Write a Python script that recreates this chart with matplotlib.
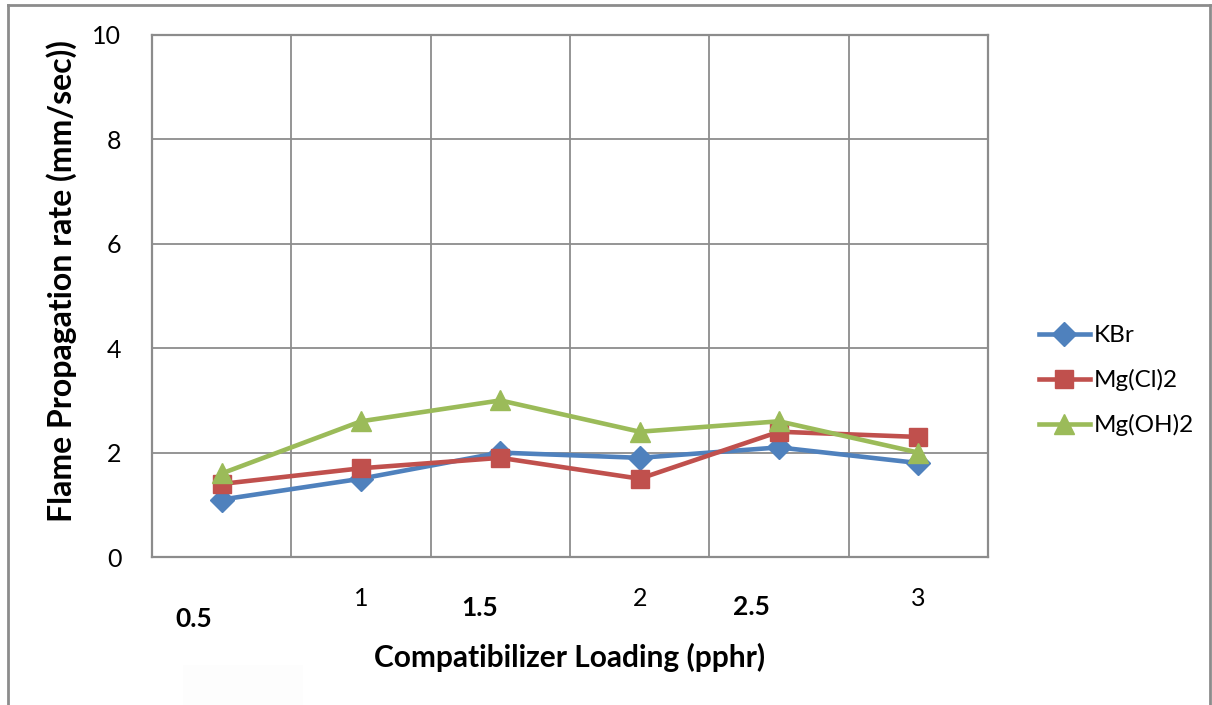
import matplotlib.pyplot as plt
from matplotlib.lines import Line2D
from matplotlib.patches import Rectangle

plt.rcParams['font.family'] = ['Lato', 'DejaVu Sans']

# loading levels (pphr) and flame propagation rate (mm/sec)
loading = ['0.5', '1', '1.5', '2', '2.5', '3']
kbr = [1.1, 1.5, 2.0, 1.9, 2.1, 1.8]
mgcl2 = [1.4, 1.7, 1.9, 1.5, 2.4, 2.3]
mgoh2 = [1.6, 2.6, 3.0, 2.4, 2.6, 2.0]

fig = plt.figure(figsize=(12.12, 7.05), dpi=100)
ax = fig.add_axes([0.1254, 0.2099, 0.6898, 0.7405])

grid_c = '#8c8c8c'
styles = [('#4F81BD', 'D', 12), ('#C0504D', 's', 12.5), ('#9BBB59', '^', 14)]
xs = list(range(len(loading)))
for ys, (c, m, ms) in zip([kbr, mgcl2, mgoh2], styles):
    ax.plot(xs, ys, color=c, lw=3.3, marker=m, ms=ms)

ax.set_xlim(-0.5, len(loading) - 0.5)
ax.set_ylim(0, 10)
ax.set_yticks(range(0, 11, 2))
ax.set_xticks([x + 0.5 for x in range(-1, len(loading))], minor=False)
ax.set_xticklabels([])
ax.grid(True, color=grid_c, lw=1.3)
ax.set_axisbelow(True)
for s in ax.spines.values():
    s.set_color(grid_c)
    s.set_linewidth(1.6)
ax.tick_params(axis='both', length=0, labelsize=18, pad=22)

# plain labels on every other category, bold ones set lower in between
for i, lab in enumerate(loading):
    if i % 2 == 1:
        ax.text(i, -0.8, lab, ha='center', va='center', fontsize=18)
bold_pos = {0: (-0.2, -1.18), 2: (1.85, -0.97), 4: (3.8, -0.95)}
for i, (x, y) in bold_pos.items():
    ax.text(x, y, loading[i], ha='center', va='center', fontsize=19,
            fontweight='bold')

ax.text(2.5, -1.93, 'Compatibilizer Loading (pphr)', ha='center',
        va='center', fontsize=21.5, fontweight='bold')
ax.set_ylabel('Flame Propagation rate (mm/sec))', fontsize=23,
              fontweight='bold')
ax.yaxis.set_label_coords(-0.09, 0.529)

handles = [Line2D([], [], color=c, lw=3.3, marker=m, ms=ms)
           for c, m, ms in styles]
fig.legend(handles, ['KBr', 'Mg(Cl)2', 'Mg(OH)2'], loc='center left',
           bbox_to_anchor=(0.839, 0.46), frameon=False, fontsize=17.5,
           handlelength=2.1, handletextpad=0.15, labelspacing=0.95)

# outer chart frame
fig.add_artist(Line2D([0.0066, 0.0066], [0.0, 0.993], color='#8c8c8c',
                      lw=2, transform=fig.transFigure))
fig.add_artist(Line2D([0.0066, 0.9985], [0.993, 0.993], color='#8c8c8c',
                      lw=2, transform=fig.transFigure))
fig.add_artist(Line2D([0.9985, 0.9985], [0.0, 0.993], color='#8c8c8c',
                      lw=2, transform=fig.transFigure))
fig.add_artist(Rectangle((0.151, 0.0), 0.099, 0.057, color='#fdfdfd',
                         transform=fig.transFigure, lw=0))

fig.savefig('out.png', dpi=100)
